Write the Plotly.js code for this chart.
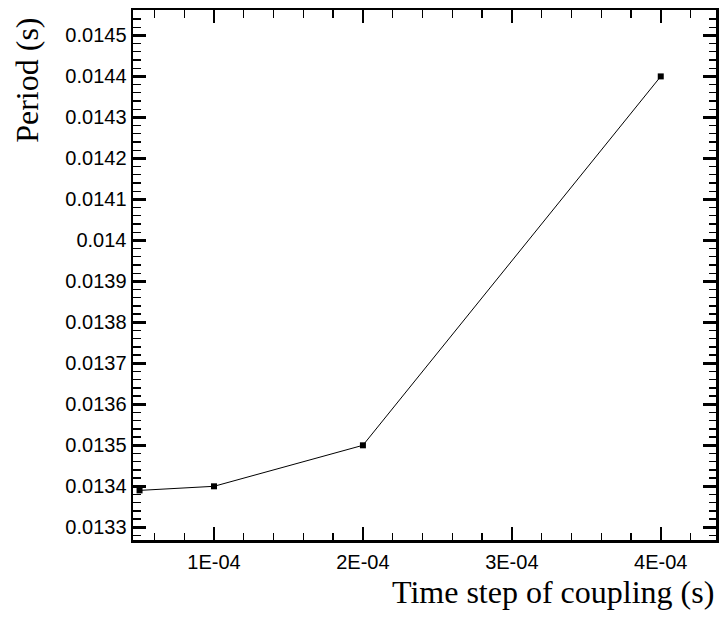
<!DOCTYPE html>
<html>
<head>
<meta charset="utf-8">
<script src="https://cdn.plot.ly/plotly-3.0.1.min.js"></script>
<style>html,body{margin:0;padding:0;background:#fff;}#chart{width:722px;height:617px;}</style>
</head>
<body>
<div id="chart"></div>
<script>
const timeStep = [5e-5, 1e-4, 2e-4, 4e-4];
const period = [0.01339, 0.01340, 0.01350, 0.01440];
const xTickVals = [1e-4, 2e-4, 3e-4, 4e-4];
const xTickText = ["1E-04", "2E-04", "3E-04", "4E-04"];
const yTickVals = [0.0133,0.0134,0.0135,0.0136,0.0137,0.0138,0.0139,0.0140,0.0141,0.0142,0.0143,0.0144,0.0145];
const yTickText = ["0.0133","0.0134","0.0135","0.0136","0.0137","0.0138","0.0139","0.014","0.0141","0.0142","0.0143","0.0144","0.0145"];
const xTitle = 'Time step of coupling (s)';
const yTitle = 'Period (s)';

const sansFont = "Arial, 'Liberation Sans', sans-serif";
const serifFont = "'Times New Roman', 'Liberation Serif', serif";

const trace = {
  x: timeStep, y: period, type: 'scatter', mode: 'lines+markers',
  line: {color: '#000', width: 1},
  marker: {symbol: 'square', size: 6, color: '#000'},
  cliponaxis: false
};
function makeAxis(extra) {
  return Object.assign({
    showgrid: false, zeroline: false, showline: true, linecolor: '#000', linewidth: 2.5,
    mirror: 'allticks', ticks: 'inside', ticklen: 13, tickwidth: 2.5, tickcolor: '#000',
    tickfont: {family: sansFont, size: 20, color: '#000'},
    tickmode: 'array'
  }, extra);
}
const layout = {
  width: 722, height: 617,
  margin: {l: 133, r: 6, t: 10, b: 77},
  paper_bgcolor: '#fff', plot_bgcolor: '#fff',
  showlegend: false,
  font: {family: sansFont, size: 20, color: '#000'},
  xaxis: makeAxis({
    range: [4.56e-5, 4.371e-4], tickvals: xTickVals, ticktext: xTickText,
    ticklabelstandoff: 2,
    minor: {dtick: 2e-5, tick0: 0, ticks: 'inside', ticklen: 7.5, tickwidth: 1.3, tickcolor: '#000'}
  }),
  yaxis: makeAxis({
    range: [0.013269, 0.014562], tickvals: yTickVals, ticktext: yTickText,
    minor: {dtick: 0.00002, tick0: 0, ticks: 'inside', ticklen: 7.5, tickwidth: 1.3, tickcolor: '#000'}
  }),
  annotations: [
    {text: xTitle, xref: 'paper', yref: 'paper', x: 1, y: 0,
     xanchor: 'right', yanchor: 'middle', yshift: -52, showarrow: false,
     font: {family: serifFont, size: 32, color: '#000'}},
    {text: yTitle, xref: 'paper', yref: 'paper', x: 0, y: 1,
     xanchor: 'center', yanchor: 'middle', xshift: -105.5, yshift: -70.3,
     textangle: -90, showarrow: false,
     font: {family: serifFont, size: 32, color: '#000'}}
  ]
};
Plotly.newPlot('chart', [trace], layout, {displayModeBar: false, staticPlot: true});
</script>
</body>
</html>
